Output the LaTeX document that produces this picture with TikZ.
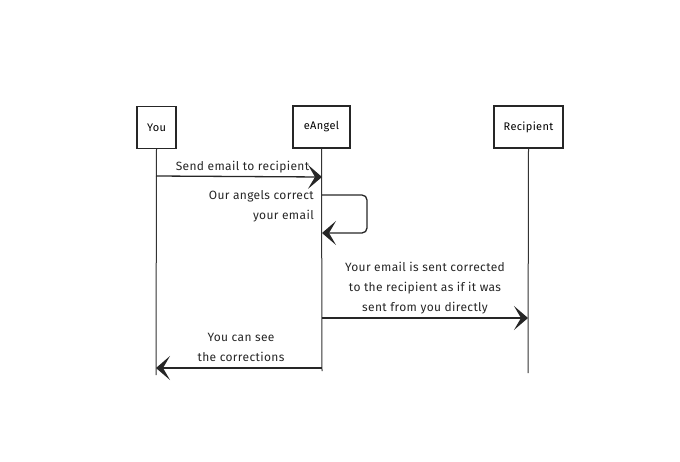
\documentclass[tikz,border=0pt]{standalone}
\usepackage{fontspec}
\setmainfont{Fira Sans}[LetterSpace=3]
\usetikzlibrary{arrows.meta}
\begin{document}
\begin{tikzpicture}[x=1pt,y=-1pt,
  actor/.style={draw=black!85,line width=1.2pt,minimum width=#1,minimum height=42pt,inner sep=0pt,font=\fontsize{11}{13}\selectfont},
  lifeline/.style={draw=black!80,line width=1pt},
  msg/.style={draw=black!85,line width=1.3pt,-{Stealth[length=14pt,width=24pt,inset=7pt]}},
  lbl/.style={font=\fontsize{12}{20}\selectfont,inner sep=0pt,text=black!85}]
\useasboundingbox (0,0) rectangle (680,461);
% actors
\node[actor=39pt] (you) at (156.5,127.5) {You};
\node[actor=57pt] (eangel) at (321.5,127) {eAngel};
\node[actor=69pt] (recip) at (528.5,127) {Recipient};
% lifeline ends
\coordinate (youend) at (156,375);
\coordinate (angelend) at (322,371);
\coordinate (recipend) at (528,373);
\draw[lifeline] (you.south) -- (youend);
\draw[lifeline] (eangel.south) -- (angelend);
\draw[lifeline] (recip.south) -- (recipend);
% message points
\coordinate (m1a) at (156,176);
\coordinate (m1b) at (322,177);
\coordinate (m2a) at (322,195);
\coordinate (m2b) at (322,233);
\coordinate (m3a) at (322,318);
\coordinate (m3b) at (528,318);
\coordinate (m4a) at (322,368);
\coordinate (m4b) at (156,368);
\draw[msg] (m1a) -- (m1b);
\draw[msg,rounded corners=5pt] (m2a) -- (367,195) -- (367,233) -- (m2b);
\draw[msg] (m3a) -- (m3b);
\draw[msg] (m4a) -- (m4b);
% labels
\node[lbl,align=center] (l1) at (242.5,167) {Send email to recipient};
\node[lbl,anchor=east,align=right] (l2) at (314,206) {Our angels correct\\your email};
\node[lbl,align=center] (l3) at (425,288) {Your email is sent corrected\\to the recipient as if it was\\sent from you directly};
\node[lbl,align=center] (l4) at (241,347) {You can see\\the corrections};
\end{tikzpicture}
\end{document}
